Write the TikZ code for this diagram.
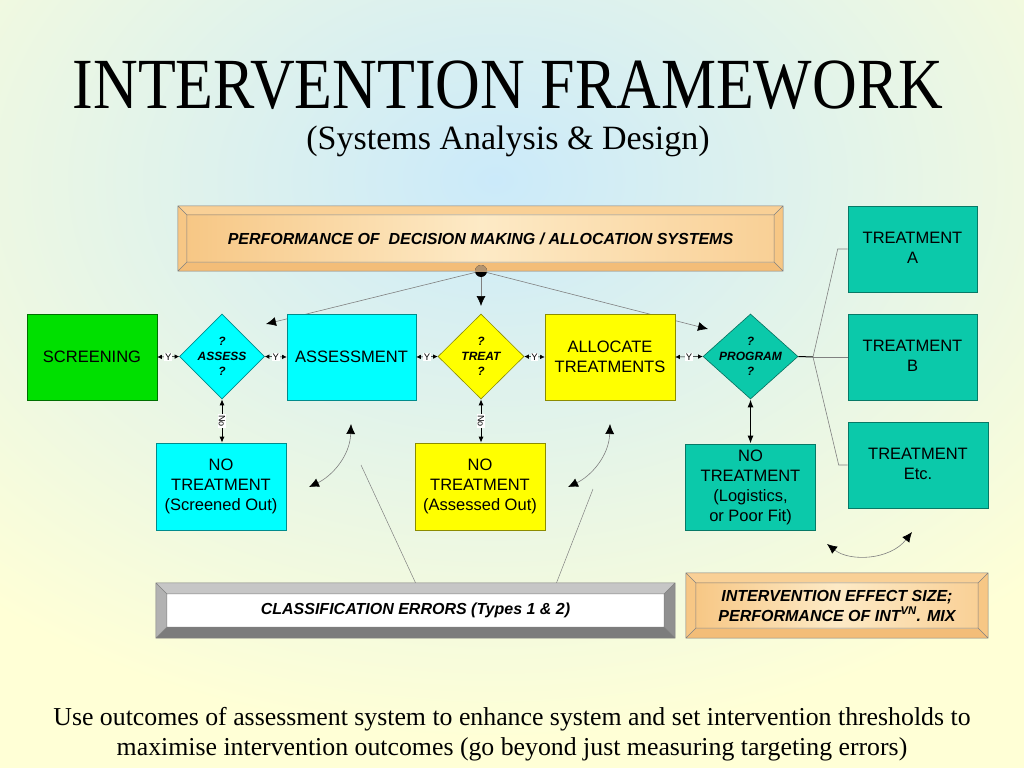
\documentclass[tikz,border=0pt]{standalone}
\usepackage{fontspec}
\setmainfont{Liberation Serif}
\setsansfont{Liberation Sans}
\newfontfamily\titleface[FakeStretch=0.86]{Liberation Serif}
\usetikzlibrary{positioning,shapes.geometric,arrows.meta}
\definecolor{SkyBlue}{HTML}{CBEAFA}
\definecolor{Cream}{HTML}{FFFFD6}
\definecolor{BoxGreen}{HTML}{00E000}
\definecolor{BoxCyan}{HTML}{00FFFF}
\definecolor{BoxYellow}{HTML}{FFFF00}
\definecolor{BoxTeal}{HTML}{0BC9AA}
\definecolor{OrangeTop}{HTML}{F9D096}
\definecolor{OrangeSide}{HTML}{F7C785}
\definecolor{OrangeLow}{HTML}{F3BD78}
\definecolor{OrangeFace}{HTML}{FDEAC6}
\definecolor{GreyTop}{HTML}{C6C6C6}
\definecolor{GreySide}{HTML}{B2B2B2}
\definecolor{GreyLow}{HTML}{7C7C7C}
\definecolor{HubTan}{HTML}{B39470}
% #1 node, #2 depth, #3 top, #4 right, #5 bottom, #6 left, #7 face
\newcommand{\bevelframe}[7]{%
  \coordinate (#1-a) at ([shift={(#2,#2)}]#1.north west);
  \coordinate (#1-b) at ([shift={(-#2,#2)}]#1.north east);
  \coordinate (#1-c) at ([shift={(-#2,-#2)}]#1.south east);
  \coordinate (#1-d) at ([shift={(#2,-#2)}]#1.south west);
  \fill[#3] (#1.north west) -- (#1.north east) -- (#1-b) -- (#1-a) -- cycle;
  \fill[#4] (#1.north east) -- (#1.south east) -- (#1-c) -- (#1-b) -- cycle;
  \fill[#5] (#1.south east) -- (#1.south west) -- (#1-d) -- (#1-c) -- cycle;
  \fill[#6] (#1.south west) -- (#1.north west) -- (#1-a) -- (#1-d) -- cycle;
  \fill[#7] (#1-a) rectangle (#1-c);
  \draw[frameline] (#1.north west) rectangle (#1.south east) (#1-a) rectangle (#1-c)
    (#1.north west) -- (#1-a) (#1.north east) -- (#1-b)
    (#1.south east) -- (#1-c) (#1.south west) -- (#1-d);
}
\tikzset{
  scrnode/.style={draw=BoxGreen!50!black,fill=BoxGreen,line width=0.6pt,
    minimum width=130pt,minimum height=86pt,inner sep=1pt,
    font=\fontsize{16.5}{20}\selectfont\sffamily,align=center},
  asmnode/.style={scrnode,draw=BoxCyan!55!black,fill=BoxCyan},
  alcnode/.style={scrnode,draw=BoxYellow!55!black,fill=BoxYellow},
  trtnode/.style={scrnode,draw=BoxTeal!60!black,fill=BoxTeal},
  qnode/.style={diamond,draw=#1!55!black,fill=#1,line width=0.6pt,
    minimum width=85pt,minimum height=85pt,inner sep=0pt},
  qtext/.style={font=\fontsize{12}{15}\selectfont\sffamily\bfseries\itshape,
    align=center,inner sep=0pt},
  toptext/.style={font=\fontsize{16.5}{20}\selectfont\sffamily,align=center,
    inner sep=0pt,anchor=north,yshift=-26pt},
  framebox/.style={draw=none,inner sep=0pt},
  frameline/.style={draw=black!50,line width=0.5pt},
  bantext/.style={font=\fontsize{16}{20}\selectfont\sffamily\bfseries\itshape,align=center},
  titletext/.style={font=\titleface\fontsize{72}{76}\selectfont,inner sep=0pt},
  subtext/.style={font=\fontsize{34}{40}\selectfont,inner sep=0pt},
  foottext/.style={font=\fontsize{25.8}{30}\selectfont,align=center,inner sep=0pt},
  ylink/.style={{Latex[length=4.5pt,width=4.5pt]}-{Latex[length=4.5pt,width=4.5pt]},line width=0.6pt},
  ylab/.style={fill=white,inner sep=0.8pt,font=\fontsize{9.5}{10}\selectfont\sffamily},
  nolink/.style={{Latex[length=6pt,width=5pt]}-{Latex[length=6pt,width=5pt]},line width=0.9pt},
  nolab/.style={fill=white,inner sep=0.8pt,rotate=-90,font=\fontsize{9}{10}\selectfont\sffamily},
  proglink/.style={{Latex[length=8pt,width=6pt]}-{Latex[length=8pt,width=6pt]},line width=1.4pt},
  feed/.style={draw=gray,line width=0.6pt,-{Latex[length=10pt,width=9pt,color=black]}},
  swing/.style={draw=gray,line width=0.6pt,
    {Latex[length=10pt,width=9pt,color=black]}-{Latex[length=10pt,width=9pt,color=black]}},
  branch/.style={draw=gray,line width=0.6pt},
  errline/.style={draw=gray,line width=0.5pt},
}

\begin{document}
\begin{tikzpicture}[x=1pt,y=-1pt]
  % background
  \useasboundingbox (0,0) rectangle (1024,768);
  \fill[Cream] (0,0) rectangle (1024,768);
  \begin{scope}
    \clip (0,0) rectangle (1024,768);
    \shade[inner color=SkyBlue,outer color=Cream] (495,180) ellipse [x radius=780pt,y radius=560pt];
  \end{scope}
  % titles
  \node[titletext] (title) at (508,85) {INTERVENTION FRAMEWORK};
  \node[subtext] (subtitle) at (508,141) {(Systems Analysis \& Design)};
  % decision making banner
  \node[framebox,minimum width=605pt,minimum height=65pt] (perf) at (480.5,238.5) {};
  \bevelframe{perf}{9}{OrangeTop}{OrangeSide}{OrangeLow}{OrangeSide}{left color=OrangeSide,right color=OrangeTop,middle color=OrangeFace}
  \node[bantext] (perftxt) at (perf) {PERFORMANCE OF~ DECISION MAKING / ALLOCATION SYSTEMS};
  % hub and feedback
  \node[circle,fill=black,minimum size=12pt,inner sep=0pt] (hub) at (481,271) {};
  \begin{scope}
    \clip (474,264) rectangle (488,271);
    \fill[HubTan] (hub.center) circle [radius=6pt];
  \end{scope}
  \coordinate (asmIn) at (266,324);
  \coordinate (treatIn) at (481,306);
  \coordinate (alcOut) at (708,329);
  \draw[feed] (hub) -- (asmIn);
  \draw[feed] (hub) -- (treatIn);
  \draw[feed] (hub) -- (alcOut);
  % main row
  \node[scrnode] (scr) at (92,357) {SCREENING};
  \node[qnode=BoxCyan,label={[qtext]center:{?\\ASSESS\\?}}] (qasm) at (222,356.5) {};
  \node[asmnode,minimum width=129pt] (asm) at (351.5,357) {ASSESSMENT};
  \node[qnode=BoxYellow,minimum width=86pt,label={[qtext]center:{?\\TREAT\\?}}] (qtrt) at (481,356.5) {};
  \node[alcnode] (alc) at (610,357) {ALLOCATE\\TREATMENTS};
  \node[qnode=BoxTeal,minimum width=95pt,label={[qtext]center:{?\\PROGRAM\\?}}] (qprg) at (750.5,356.5) {};
  % treatments
  \node[trtnode,minimum width=129pt,label={[toptext]north:{TREATMENT\\A}}] (trA) at (912.5,249) {};
  \node[trtnode,minimum width=129pt,label={[toptext]north:{TREATMENT\\B}}] (trB) at (912.5,357) {};
  \node[trtnode,minimum width=140pt,label={[toptext]north:{TREATMENT\\Etc.}}] (trC) at (918,465) {};
  % no treatment row
  \node[asmnode,minimum height=87pt] (noS) at (221,486.5) {NO\\TREATMENT\\(Screened Out)};
  \node[alcnode,minimum height=87pt] (noA) at (480,486.5) {NO\\TREATMENT\\(Assessed Out)};
  \node[trtnode] (noL) at (750.5,487) {NO\\TREATMENT\\(Logistics,\\or Poor Fit)};
  % yes links
  \draw[ylink] (scr.east) -- node[ylab]{Y} (qasm.west);
  \draw[ylink] (qasm.east) -- node[ylab]{Y} (asm.west);
  \draw[ylink] (asm.east) -- node[ylab]{Y} (qtrt.west);
  \draw[ylink] (qtrt.east) -- node[ylab]{Y} (alc.west);
  \draw[ylink] (alc.east) -- node[ylab]{Y} (qprg.west);
  % no links
  \draw[nolink] (qasm.south) -- node[nolab]{No} (qasm.south |- noS.north);
  \draw[nolink] (qtrt.south) -- node[nolab]{No} (qtrt.south |- noA.north);
  \draw[proglink] (qprg.south) -- (qprg.south |- noL.north);
  % branches to treatments
  \coordinate (fork) at (813,357);
  \draw[line width=1pt] (qprg.east) -- (fork);
  \draw[branch] (fork) -- ([xshift=-10pt]trA.west) -- (trA.west);
  \draw[branch] (fork) -- (trB.west);
  \draw[branch] (fork) -- ([xshift=-9pt]trC.west) -- (trC.west);
  % swing arrows
  \coordinate (swA1) at (351,424);
  \coordinate (swA2) at (309,487);
  \coordinate (swB1) at (610,424);
  \coordinate (swB2) at (568,487);
  \coordinate (swC1) at (827,544);
  \coordinate (swC2) at (912,532);
  \draw[swing] (swA2) .. controls (332,476) and (350,456) .. (swA1);
  \draw[swing] (swB2) .. controls (591,476) and (609,456) .. (swB1);
  \draw[swing] (swC1) .. controls (850,562) and (890,560) .. (swC2);
  % classification errors
  \node[framebox,minimum width=519pt,minimum height=55pt] (cls) at (415.5,610.5) {};
  \bevelframe{cls}{11}{GreyTop}{GreyLow!85!white}{GreyLow}{GreySide}{white}
  \node[bantext] (clstxt) at (cls) {CLASSIFICATION ERRORS (Types 1 \& 2)};
  \coordinate (errA) at (361,465);
  \coordinate (errB) at (593,489);
  \draw[errline] (cls.north) -- (errA);
  \draw[errline] ([xshift=141pt]cls.north) -- (errB);
  % effect size
  \node[framebox,minimum width=302pt,minimum height=65pt] (eff) at (837,605.5) {};
  \bevelframe{eff}{10}{OrangeTop}{OrangeSide}{OrangeLow}{OrangeSide}{left color=OrangeSide,right color=OrangeTop,middle color=OrangeFace}
  \node[bantext] (efftxt) at (eff) {INTERVENTION EFFECT SIZE;\\PERFORMANCE OF INT\textsuperscript{VN}. MIX};
  % footer
  \node[foottext] (foot) at (512,734) {Use outcomes of assessment system to enhance system and set intervention thresholds to\\maximise intervention outcomes (go beyond just measuring targeting errors)};
\end{tikzpicture}
\end{document}
